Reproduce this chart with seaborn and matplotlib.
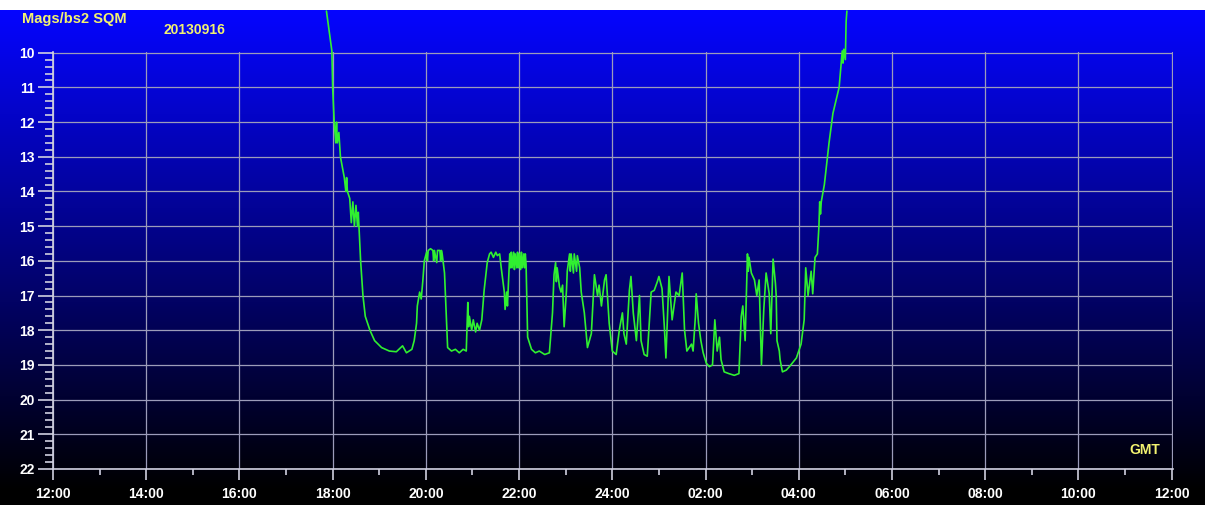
import numpy as np
import pandas as pd
import matplotlib
matplotlib.use("Agg")
import matplotlib.pyplot as plt
import seaborn as sns
from matplotlib.ticker import MultipleLocator

# Sky brightness readings, minutes after 12:00 GMT on 2013-09-16
minutes = [352, 359, 360, 362, 364, 365, 366, 368, 370, 375, 377, 378, 379, 382, 384, 386,
           388, 390, 392, 393, 396, 399, 402, 408, 414, 423, 433, 442, 450, 455, 462, 465,
           468, 469, 472, 474, 476, 478, 481, 482, 483, 486, 489, 490, 491, 494, 495, 498,
           499, 500, 501, 504, 507, 508, 513, 518, 523, 528, 532, 534, 535, 536, 539, 541,
           544, 546, 549, 552, 555, 559, 562, 564, 567, 570, 572, 575, 577, 581, 582, 584,
           585, 588, 589, 590, 591, 593, 594, 595, 597, 598, 599, 600, 602, 603, 604, 606,
           607, 608, 609, 611, 616, 621, 626, 633, 639, 643, 645, 647, 648, 649, 652, 654,
           656, 658, 661, 662, 665, 666, 667, 670, 671, 674, 675, 678, 680, 684, 688, 693,
           697, 701, 703, 706, 710, 712, 716, 720, 725, 729, 733, 735, 738, 742, 744, 747,
           751, 755, 757, 761, 765, 770, 774, 778, 780, 784, 787, 789, 793, 797, 802, 806,
           810, 813, 816, 822, 824, 827, 828, 831, 834, 837, 841, 845, 849, 852, 855, 858,
           860, 864, 870, 877, 883, 886, 888, 891, 894, 895, 896, 899, 903, 906, 909, 912,
           915, 918, 922, 924, 927, 930, 931, 932, 935, 936, 939, 944, 948, 957, 963, 967,
           969, 972, 976, 978, 981, 984, 986, 987, 988, 989, 993, 999, 1004, 1012, 1016, 1017,
           1018, 1020, 1021, 1022]
mags = [8.8, 9.95, 11.0, 12.0, 12.6, 12.0, 12.6, 12.3, 13.0, 13.6, 14.0, 13.6, 14.0, 14.2, 14.9, 14.3,
        15.0, 14.4, 15.0, 14.6, 16.0, 17.0, 17.6, 18.0, 18.3, 18.5, 18.6, 18.62, 18.45, 18.65, 18.55, 18.3,
        17.8, 17.3, 16.9, 17.1, 16.6, 16.0, 15.75, 16.0, 15.7, 15.65, 15.7, 16.0, 15.7, 16.05, 15.7, 15.7,
        16.0, 15.7, 15.8, 16.35, 18.0, 18.5, 18.6, 18.55, 18.65, 18.55, 18.6, 17.2, 17.9, 17.6, 18.0, 17.7,
        18.05, 17.8, 18.0, 17.7, 16.85, 16.05, 15.8, 15.75, 15.9, 15.75, 15.85, 15.8, 16.2, 16.9, 17.4, 16.9,
        17.3, 15.8, 16.2, 15.75, 16.2, 15.75, 16.25, 15.8, 16.2, 15.75, 16.2, 15.8, 16.25, 15.75, 16.2, 15.8,
        16.2, 15.8, 16.1, 18.2, 18.55, 18.65, 18.6, 18.7, 18.65, 17.5, 16.4, 16.05, 16.6, 16.2, 16.75, 16.9,
        16.7, 17.9, 16.85, 16.3, 15.8, 16.3, 15.8, 16.35, 15.8, 16.3, 15.85, 16.2, 16.9, 17.5, 18.5, 18.1,
        16.4, 17.0, 16.7, 17.3, 16.55, 16.4, 17.8, 18.6, 18.7, 18.0, 17.5, 18.1, 18.4, 16.85, 16.45, 17.5,
        18.3, 17.0, 18.3, 18.7, 18.75, 16.9, 16.85, 16.6, 16.45, 16.8, 17.9, 18.8, 16.45, 17.7, 16.9, 17.0,
        16.35, 18.0, 18.6, 18.4, 18.6, 17.6, 16.95, 17.8, 18.3, 18.65, 18.95, 19.05, 19.0, 17.7, 18.6, 18.2,
        18.85, 19.2, 19.25, 19.3, 19.25, 17.6, 17.3, 18.3, 15.8, 16.3, 15.9, 16.35, 16.55, 17.0, 16.55, 19.0,
        17.4, 16.35, 16.95, 18.1, 15.95, 16.65, 17.0, 18.3, 18.6, 18.85, 19.2, 19.15, 19.05, 18.8, 18.4, 17.7,
        16.2, 17.0, 16.3, 16.95, 15.9, 15.8, 15.0, 14.3, 14.65, 14.3, 13.8, 12.6, 11.75, 11.0, 9.95, 10.3,
        9.9, 10.2, 9.1, 8.8]

hour_ticks = [12, 14, 16, 18, 20, 22, 24, 26, 28, 30, 32, 34, 36]
hour_labels = ["12:00", "14:00", "16:00", "18:00", "20:00", "22:00", "24:00",
               "02:00", "04:00", "06:00", "08:00", "10:00", "12:00"]
mag_ticks = list(range(10, 23))

df = pd.DataFrame({"hour": 12 + np.array(minutes) / 60.0, "mag": mags})

sns.set_style("ticks")
plt.rcParams["font.family"] = ["Liberation Sans", "DejaVu Sans"]

W, H = 1205, 505
fig = plt.figure(figsize=(W / 100, H / 100), dpi=100, facecolor="white")

# gradient background, blue at top fading to black
bg = fig.add_axes([0, 0, 1, 495 / 505], zorder=0)
t = np.linspace(0, 1, 400)
blue = np.clip(1 - t / 0.97, 0, 1)
grad = np.zeros((400, 1, 3))
grad[:, 0, 2] = 1.0 * blue
grad[:, 0, 0] = 0.02 * blue
grad[:, 0, 1] = 0.02 * blue
bg.imshow(grad, aspect="auto", extent=[0, 1, 0, 1], origin="upper")
bg.set_axis_off()

ax = fig.add_axes([53 / W, 36 / H, 1120 / W, 417 / H], zorder=1)
ax.set_facecolor("none")

grid_c = "#9c9cba"
sns.lineplot(data=df, x="hour", y="mag", ax=ax, color="#30f030", linewidth=1.2,
             estimator=None, sort=False, clip_on=False, zorder=5)

ax.set_xlim(12, 36.03)
ax.set_ylim(22, 9.98)
ax.set_xticks(hour_ticks)
ax.set_xticklabels(hour_labels)
ax.set_yticks(mag_ticks)
ax.set_yticklabels([str(m) for m in mag_ticks])
ax.xaxis.set_minor_locator(MultipleLocator(1))
ax.yaxis.set_minor_locator(MultipleLocator(0.2))
ax.grid(True, which="major", color=grid_c, linewidth=0.9)
ax.set_xlabel("")
ax.set_ylabel("")

for s in ["top", "right"]:
    ax.spines[s].set_visible(False)
for s in ["left", "bottom"]:
    ax.spines[s].set_color("#d0d0e0")
    ax.spines[s].set_linewidth(1.2)

ax.tick_params(axis="both", which="both", colors="#d0d0e0", labelcolor="white", width=1.2)
ax.tick_params(axis="y", which="major", length=11, pad=2)
ax.tick_params(axis="y", which="minor", length=6)
ax.tick_params(axis="x", which="major", length=8, pad=5)
ax.tick_params(axis="x", which="minor", length=4)
for lab in ax.get_xticklabels() + ax.get_yticklabels():
    lab.set_fontsize(10)
    lab.set_fontweight("bold")

yellow = "#f2f270"
fig.text(22 / W, 1 - 19 / H, "Mags/bs2 SQM", color=yellow, fontsize=10.5,
         fontweight="bold", ha="left", va="center", zorder=3)
fig.text(163 / W, 1 - 30 / H, "20130916", color=yellow, fontsize=10,
         fontweight="bold", ha="left", va="center", zorder=3)
fig.text(1145 / W, 1 - 450 / H, "GMT", color=yellow, fontsize=10,
         fontweight="bold", ha="center", va="center", zorder=3)

fig.savefig("out.png", dpi=100, facecolor="white")
